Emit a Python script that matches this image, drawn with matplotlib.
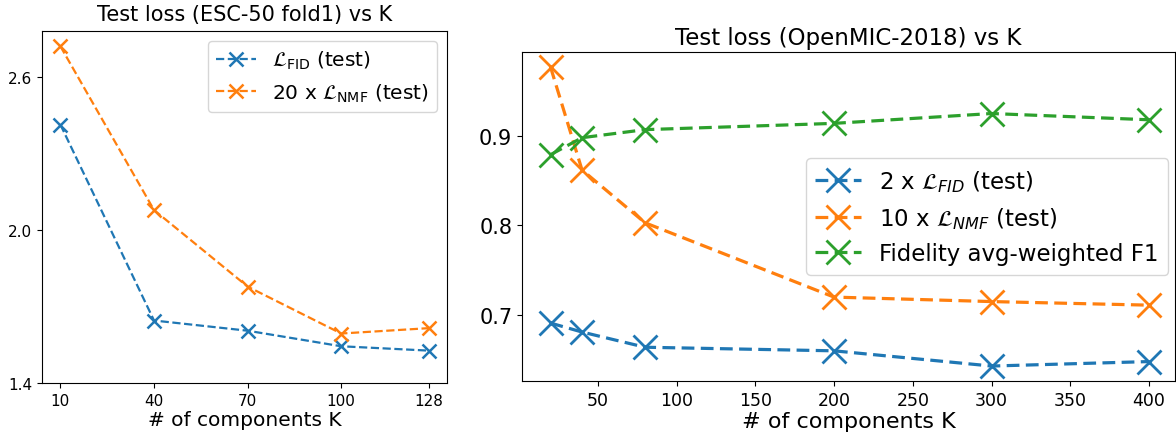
import matplotlib
matplotlib.use("Agg")
import matplotlib.pyplot as plt

# ESC-50 fold1
esc_k = [10, 40, 70, 100, 128]
esc_fid = [2.413, 1.645, 1.605, 1.544, 1.527]
esc_nmf = [2.72, 2.078, 1.778, 1.594, 1.615]

# OpenMIC-2018
mic_k = [20, 40, 80, 200, 300, 400]
mic_fid = [0.691, 0.681, 0.664, 0.660, 0.643, 0.648]
mic_nmf = [0.977, 0.862, 0.803, 0.720, 0.715, 0.711]
mic_f1 = [0.879, 0.898, 0.907, 0.914, 0.925, 0.918]

fig = plt.figure(figsize=(11.76, 4.35), dpi=100)

left_ax = fig.add_axes([42 / 1176, 51 / 435, 405 / 1176, 352 / 435])
left_ax.plot(esc_k, esc_fid, "x--", color="C0", lw=1.6, ms=10, mew=1.8,
             label=r"$\mathcal{L}_{\mathrm{FID}}$ (test)")
left_ax.plot(esc_k, esc_nmf, "x--", color="C1", lw=1.6, ms=10, mew=1.8,
             label=r"20 x $\mathcal{L}_{\mathrm{NMF}}$ (test)")
left_ax.set_xticks(esc_k)
left_ax.set_yticks([1.4, 2.0, 2.6])
left_ax.set_ylim(1.4, 2.78)
left_ax.tick_params(labelsize=11)
left_ax.set_title("Test loss (ESC-50 fold1) vs K", fontsize=15, pad=8)
left_ax.set_xlabel("# of components K", fontsize=14.5, labelpad=2)
left_ax.legend(loc="upper right", fontsize=14.5, handlelength=2.0)

right_ax = fig.add_axes([522 / 1176, 53 / 435, 653 / 1176, 329 / 435])
right_ax.plot(mic_k, mic_fid, "x--", color="C0", lw=2.3, ms=17, mew=2,
              dashes=(4, 2), label=r"2 x $\mathcal{L}_{FID}$ (test)")
right_ax.plot(mic_k, mic_nmf, "x--", color="C1", lw=2.3, ms=17, mew=2,
              dashes=(4, 2), label=r"10 x $\mathcal{L}_{NMF}$ (test)")
right_ax.plot(mic_k, mic_f1, "x--", color="C2", lw=2.3, ms=17, mew=2,
              dashes=(4, 2), label="Fidelity avg-weighted F1")
right_ax.set_xlim(1.9, 416.5)
right_ax.set_yticks([0.7, 0.8, 0.9])
right_ax.tick_params(axis="y", labelsize=15)
right_ax.tick_params(axis="x", labelsize=12.5)
right_ax.set_title("Test loss (OpenMIC-2018) vs K", fontsize=16.5, pad=6)
right_ax.set_xlabel("# of components K", fontsize=16, labelpad=2)
right_ax.legend(loc="center right", fontsize=16.5, handlelength=2.0,
                borderaxespad=0.3)

fig.savefig("out.png", dpi=100)
